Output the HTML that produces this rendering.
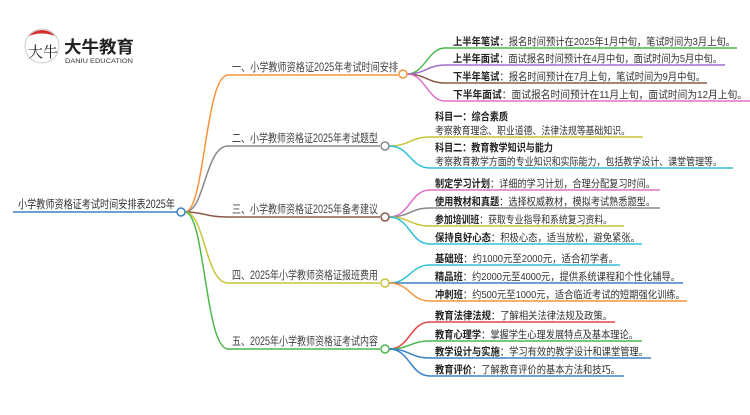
<!DOCTYPE html>
<html><head><meta charset="utf-8"><style>
body{margin:0;background:#fff;}
svg text{font-family:"Liberation Sans","Noto Sans CJK SC",sans-serif;}
.b{font-size:11.5px;fill:#444;}
.l{font-size:10.5px;fill:#333;}
.l tspan.k{font-weight:bold;fill:#222;}
</style></head><body>
<svg width="750" height="410" viewBox="0 0 750 410" xmlns="http://www.w3.org/2000/svg" fill="none" stroke-width="1.5">
<circle cx="42" cy="46" r="17" stroke="#ccc" stroke-width="1" fill="#fff"/>
<path d="M29 36 A17 17 0 0 1 55 36 Q42 31 29 36 Z" fill="#d32f2f" stroke="none"/>
<text x="28" y="57" style="font-size:15px;fill:#222;font-family:'Noto Serif CJK SC',serif">大牛</text>
<text x="64" y="53" textLength="70" lengthAdjust="spacingAndGlyphs" style="font-size:17px;font-weight:bold;fill:#222">大牛教育</text>
<text x="65" y="63" textLength="68" lengthAdjust="spacingAndGlyphs" style="font-size:6px;fill:#333">DANIU EDUCATION</text>

<text x="18" y="208" textLength="157" lengthAdjust="spacingAndGlyphs" class="b" style="fill:#333">小学教师资格证考试时间安排表2025年</text>
<line x1="13" y1="212" x2="177" y2="212" stroke="#3b82c4"/>
<path d="M185 212 C205 212,205 75,228 75 L398 75" stroke="#f7943a"/>
<path d="M185 212 C205 212,205 146,228 146 L380 146" stroke="#888"/>
<path d="M185 212 C205 212,205 217,228 217 L380 217" stroke="#8b5a4a"/>
<path d="M185 212 C205 212,205 283,228 283 L380 283" stroke="#c8c43a"/>
<path d="M185 212 C205 212,205 349,228 349 L380 349" stroke="#4cb84c"/>
<circle cx="181" cy="212" r="4" fill="#fff" stroke="#3b82c4"/>
<text x="232" y="71" textLength="166" lengthAdjust="spacingAndGlyphs" class="b">一、小学教师资格证2025年考试时间安排</text>
<text x="232" y="142" textLength="146" lengthAdjust="spacingAndGlyphs" class="b">二、小学教师资格证2025年考试题型</text>
<text x="232" y="213" textLength="146" lengthAdjust="spacingAndGlyphs" class="b">三、小学教师资格证2025年备考建议</text>
<text x="232" y="279" textLength="146" lengthAdjust="spacingAndGlyphs" class="b">四、2025年小学教师资格证报班费用</text>
<text x="232" y="345" textLength="146" lengthAdjust="spacingAndGlyphs" class="b">五、2025年小学教师资格证考试内容</text>

<path d="M407 74 C425 74,428 48,445 48 L737 48" stroke="#4cb84c"/>
<path d="M407 74 C425 74,428 65,445 65 L725 65" stroke="#a070d0"/>
<path d="M407 74 C425 74,428 83,445 83 L707 83" stroke="#8b5a4a"/>
<path d="M407 74 C425 74,428 101,445 101 L750 101" stroke="#e070c8"/>
<circle cx="403" cy="74" r="4" fill="#fff" stroke="#f7943a"/>
<text x="453" y="45" textLength="282" lengthAdjust="spacingAndGlyphs" class="l"><tspan class="k">上半年笔试</tspan>：报名时间预计在2025年1月中旬，笔试时间为3月上旬。</text>
<text x="453" y="62" textLength="269" lengthAdjust="spacingAndGlyphs" class="l"><tspan class="k">上半年面试</tspan>：面试报名时间预计在4月中旬，面试时间为5月中旬。</text>
<text x="453" y="80" textLength="252" lengthAdjust="spacingAndGlyphs" class="l"><tspan class="k">下半年笔试</tspan>：报名时间预计在7月上旬，笔试时间为9月中旬。</text>
<text x="453" y="98" textLength="294" lengthAdjust="spacingAndGlyphs" class="l"><tspan class="k">下半年面试</tspan>：面试报名时间预计在11月上旬，面试时间为12月上旬。</text>

<path d="M389 146 C410 146,410 137,430 137 L643 137" stroke="#c8c43a"/>
<path d="M389 146 C410 146,410 168,430 168 L733 168" stroke="#30c0d8"/>
<circle cx="385" cy="146" r="4" fill="#fff" stroke="#888"/>
<text x="435" y="120" textLength="73" lengthAdjust="spacingAndGlyphs" class="l"><tspan class="k">科目一：综合素质</tspan></text>
<text x="435" y="134" textLength="195" lengthAdjust="spacingAndGlyphs" class="l">考察教育理念、职业道德、法律法规等基础知识。</text>
<text x="435" y="151" textLength="118" lengthAdjust="spacingAndGlyphs" class="l"><tspan class="k">科目二：教育教学知识与能力</tspan></text>
<text x="435" y="165" textLength="287" lengthAdjust="spacingAndGlyphs" class="l">考察教育教学方面的专业知识和实际能力，包括教学设计、课堂管理等。</text>

<path d="M389 217 C410 217,410 190,430 190 L660 190" stroke="#e070c8"/>
<path d="M389 217 C410 217,410 208,430 208 L660 208" stroke="#888"/>
<path d="M389 217 C410 217,410 226,430 226 L624 226" stroke="#c8c43a"/>
<path d="M389 217 C410 217,410 244,430 244 L642 244" stroke="#30c0d8"/>
<circle cx="385" cy="217" r="4" fill="#fff" stroke="#8b5a4a"/>
<text x="435" y="187" textLength="220" lengthAdjust="spacingAndGlyphs" class="l"><tspan class="k">制定学习计划</tspan>：详细的学习计划，合理分配复习时间。</text>
<text x="435" y="205" textLength="220" lengthAdjust="spacingAndGlyphs" class="l"><tspan class="k">使用教材和真题</tspan>：选择权威教材，模拟考试熟悉题型。</text>
<text x="435" y="223" textLength="177" lengthAdjust="spacingAndGlyphs" class="l"><tspan class="k">参加培训班</tspan>：获取专业指导和系统复习资料。</text>
<text x="435" y="241" textLength="205" lengthAdjust="spacingAndGlyphs" class="l"><tspan class="k">保持良好心态</tspan>：积极心态，适当放松，避免紧张。</text>

<path d="M389 283 C410 283,410 265,430 265 L620 265" stroke="#30c0d8"/>
<path d="M389 283 L683 283" stroke="#3b82c4"/>
<path d="M389 283 C410 283,410 301,430 301 L687 301" stroke="#f7943a"/>
<circle cx="385" cy="283" r="4" fill="#fff" stroke="#c8c43a"/>
<text x="435" y="262" textLength="183" lengthAdjust="spacingAndGlyphs" class="l"><tspan class="k">基础班</tspan>：约1000元至2000元，适合初学者。</text>
<text x="435" y="280" textLength="245" lengthAdjust="spacingAndGlyphs" class="l"><tspan class="k">精品班</tspan>：约2000元至4000元，提供系统课程和个性化辅导。</text>
<text x="435" y="298" textLength="250" lengthAdjust="spacingAndGlyphs" class="l"><tspan class="k">冲刺班</tspan>：约500元至1000元，适合临近考试的短期强化训练。</text>

<path d="M389 349 C410 349,410 322,430 322 L615 322" stroke="#e04848"/>
<path d="M389 349 C410 349,410 341,430 341 L642 341" stroke="#4cb84c"/>
<path d="M389 349 C410 349,410 358,430 358 L651 358" stroke="#3b82c4"/>
<path d="M389 349 C410 349,410 376,430 376 L624 376" stroke="#3b82c4"/>
<circle cx="385" cy="349" r="4" fill="#fff" stroke="#4cb84c"/>
<text x="435" y="319" textLength="177" lengthAdjust="spacingAndGlyphs" class="l"><tspan class="k">教育法律法规</tspan>：了解相关法律法规及政策。</text>
<text x="435" y="338" textLength="203" lengthAdjust="spacingAndGlyphs" class="l"><tspan class="k">教育心理学</tspan>：掌握学生心理发展特点及基本理论。</text>
<text x="435" y="355" textLength="213" lengthAdjust="spacingAndGlyphs" class="l"><tspan class="k">教学设计与实施</tspan>：学习有效的教学设计和课堂管理。</text>
<text x="435" y="373" textLength="185" lengthAdjust="spacingAndGlyphs" class="l"><tspan class="k">教育评价</tspan>：了解教育评价的基本方法和技巧。</text>
</svg>
</body></html>
